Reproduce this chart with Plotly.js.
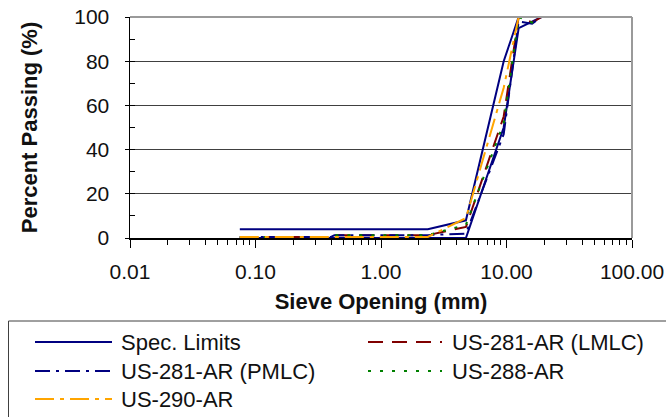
<!DOCTYPE html>
<html>
<head>
<meta charset="utf-8">
<script src="https://cdn.plot.ly/plotly-3.0.1.min.js"></script>
<style>html,body{margin:0;padding:0;background:#fff;}#chart{width:666px;height:417px;}</style>
</head>
<body>
<div id="chart"></div>
<script>
// ---- data ----
var specSieves = [0.075, 2.36, 4.75, 9.5, 12.5, 19];
var specUpper  = [4, 4, 8, 80, 100, 100];
var specLower  = [0, 0, 0, 50, 95, 100];

var mixSieves  = [0.075, 0.4, 0.425, 2.36, 4.75, 9.5, 12.5, 16, 19];
var lmlc       = [0.5, 0.5, 1.3, 1.3, 5, 55, 100, 97.5, 100];
var pmlc       = [0.5, 0.5, 1.3, 1.3, 2, 47, 98, 97, 100];
var us288      = [0.5, 0.5, 1.3, 1.3, 6, 52, 100, 97.5, 100];
var us290      = [0.5, 0.5, 0.5, 0.5, 9, 68, 100, 100, 100];

var seriesNames = ["Spec. Limits", "US-281-AR (LMLC)", "US-281-AR (PMLC)", "US-288-AR", "US-290-AR"];
var xTickVals = [0.01, 0.1, 1, 10, 100];
var xTickText = ["0.01", "0.10", "1.00", "10.00", "100.00"];
var yTickVals = [0, 20, 40, 60, 80, 100];

// ---- styles ----
var colors = ["#000080", "#800000", "#000080", "#008000", "#FFA500"];
var dashes = ["solid", "15px,9px", "15px,6px,3px,6px", "3px,9px", "19px,6px,4px,6px"];
var FONT = "Liberation Sans, Arial, sans-serif";

var specX = specSieves.concat([null], specSieves);
var specY = specUpper.concat([null], specLower);
var mixY = [lmlc, pmlc, us288, us290];

var traces = [{
  x: specX, y: specY, mode: "lines", name: seriesNames[0],
  line: {color: colors[0], width: 2, dash: dashes[0]}, connectgaps: false, showlegend: false
}];
for (var i = 0; i < mixY.length; i++) {
  traces.push({
    x: mixSieves, y: mixY[i], mode: "lines", name: seriesNames[i + 1],
    line: {color: colors[i + 1], width: 2, dash: dashes[i + 1]}, showlegend: false
  });
}

// minor tick positions on the log axis
var minorX = [];
for (var d = -2; d < 2; d++) for (var m = 2; m <= 9; m++) minorX.push(m * Math.pow(10, d));

// ---- pixel helpers for custom legend ----
var L = 130, R = 34, T = 17, B = 179, W = 666, H = 417;
var pw = W - L - R, ph = H - T - B;
function px(x) { return (x - L) / pw; }
function py(y) { return (H - B - y) / ph; }

var shapes = [
  {type: "line", xref: "paper", yref: "paper", x0: 0, x1: 1, y0: 1, y1: 1, line: {color: "#9a9a9a", width: 2}},
  {type: "line", xref: "paper", yref: "paper", x0: 1, x1: 1, y0: 0, y1: 1, line: {color: "#9a9a9a", width: 2}},
  {type: "rect", xref: "paper", yref: "paper", x0: px(8.5), x1: px(700), y0: py(321), y1: py(440),
   line: {color: "#404040", width: 1}, fillcolor: "rgba(0,0,0,0)", layer: "above"}
];
var annotations = [];
var legPos = [[35, 112, 119, 342], [368, 442, 450, 342], [35, 112, 119, 371], [368, 442, 450, 371], [35, 112, 119, 399]];
for (var k = 0; k < seriesNames.length; k++) {
  var p = legPos[k];
  shapes.push({type: "line", xref: "paper", yref: "paper", x0: px(p[0]), x1: px(p[1]), y0: py(p[3]), y1: py(p[3]),
    line: {color: colors[k], width: 2, dash: dashes[k]}});
  annotations.push({xref: "paper", yref: "paper", x: px(p[2]), y: py(p[3]), xanchor: "left", yanchor: "middle",
    text: seriesNames[k], showarrow: false, font: {family: FONT, size: 22, color: "#111"}});
}

var layout = {
  width: W, height: H,
  margin: {l: L, r: R, t: T, b: B, pad: 0},
  paper_bgcolor: "#fff", plot_bgcolor: "#fff",
  font: {family: FONT, size: 21, color: "#111"},
  showlegend: false,
  xaxis: {
    type: "log", range: [-2, 2], tickmode: "array", tickvals: xTickVals, ticktext: xTickText,
    ticks: "outside", ticklen: 8, tickcolor: "#000", tickwidth: 1,
    showline: true, linecolor: "#000", linewidth: 1.5, showgrid: false, zeroline: false,
    ticklabelstandoff: 6,
    tickfont: {family: FONT, size: 21, color: "#111"},
    minor: {tickmode: "array", tickvals: minorX, ticks: "outside", ticklen: 5, tickcolor: "#000", showgrid: false},
    title: {text: "Sieve Opening (mm)", font: {family: FONT, size: 22, color: "#111", weight: 700}, standoff: 12}
  },
  yaxis: {
    range: [0, 100], tickmode: "array", tickvals: yTickVals,
    ticks: "outside", ticklen: 4, tickcolor: "#000",
    showline: true, linecolor: "#000", linewidth: 1.5,
    showgrid: true, gridcolor: "#404040", gridwidth: 1, zeroline: false,
    ticklabelstandoff: 11,
    tickfont: {family: FONT, size: 21, color: "#111"},
    minor: {dtick: 10, ticks: "inside", ticklen: 5, tickcolor: "#000", showgrid: false},
    title: {text: "Percent Passing (%)", font: {family: FONT, size: 22, color: "#111", weight: 700}, standoff: 30}
  },
  shapes: shapes,
  annotations: annotations
};

Plotly.newPlot("chart", traces, layout, {displayModeBar: false, staticPlot: true});
</script>
</body>
</html>
